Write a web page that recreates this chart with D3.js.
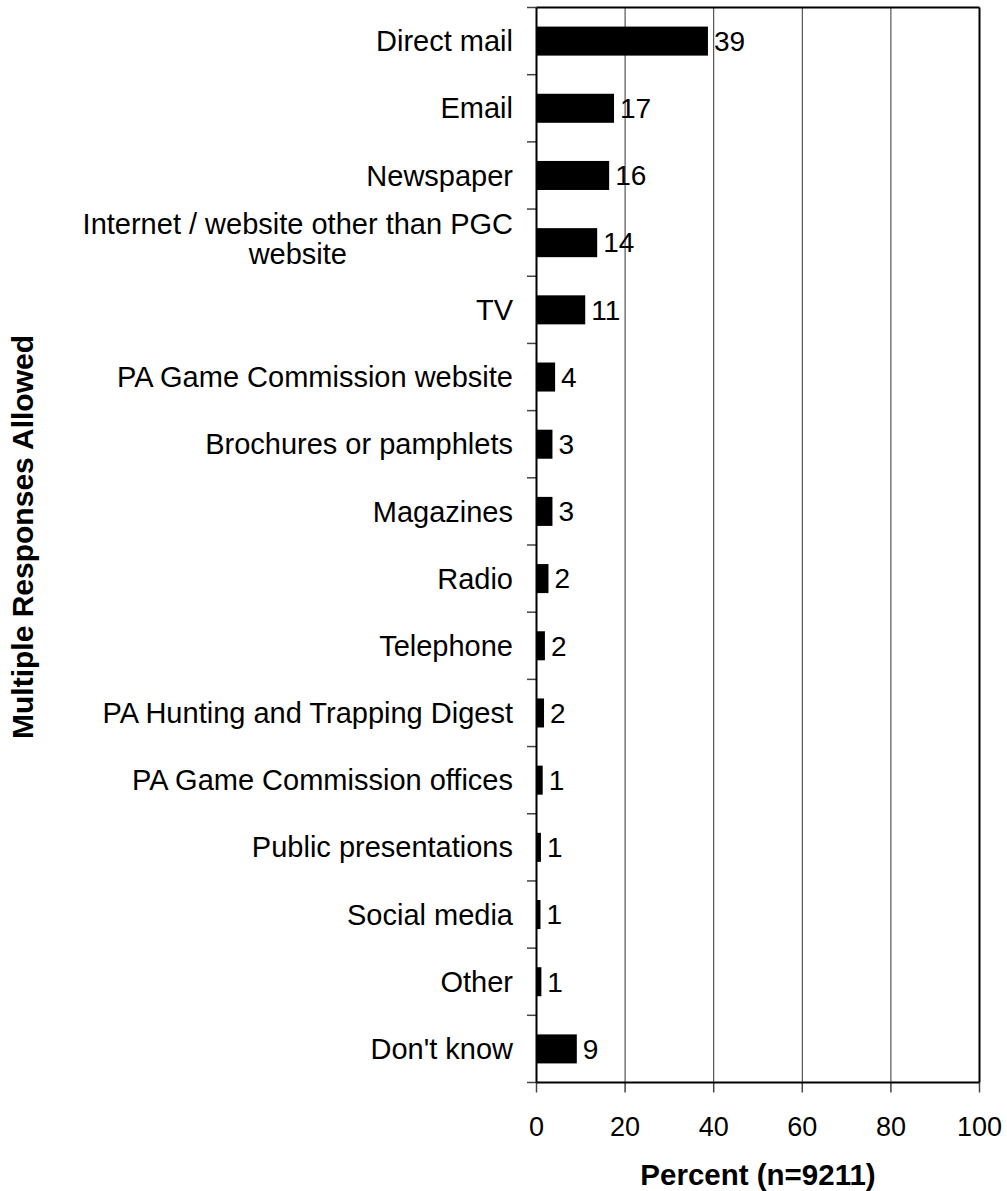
<!DOCTYPE html>
<html>
<head>
<meta charset="utf-8">
<script src="https://cdn.jsdelivr.net/npm/d3@7"></script>
<style>
  html, body { margin: 0; padding: 0; background: #fff; }
  svg { display: block; }
  text { font-family: "Liberation Sans", Arial, sans-serif; fill: #000; }
</style>
</head>
<body>
<script>
const categories = [
  "Direct mail", "Email", "Newspaper", "Internet / website other than PGC website",
  "TV", "PA Game Commission website", "Brochures or pamphlets", "Magazines",
  "Radio", "Telephone", "PA Hunting and Trapping Digest", "PA Game Commission offices",
  "Public presentations", "Social media", "Other", "Don't know"
];
const values = [38.7, 17.5, 16.4, 13.7, 11.0, 4.2, 3.6, 3.6, 2.7, 1.9, 1.7, 1.4, 1.0, 0.9, 1.1, 9.1];
const valueLabels = ["39", "17", "16", "14", "11", "4", "3", "3", "2", "2", "2", "1", "1", "1", "1", "9"];
const xTicks = [0, 20, 40, 60, 80, 100];
const xTitle = "Percent (n=9211)";
const yTitle = "Multiple Responses Allowed";

const W = 1007, H = 1191;
const plot = { left: 536.5, right: 979.5, top: 7.5, bottom: 1082.5 };

const svg = d3.select("body").append("svg").attr("width", W).attr("height", H);

const x = d3.scaleLinear().domain([0, 100]).range([plot.left, plot.right]);
const y = d3.scaleBand().domain(categories).range([plot.top, plot.bottom])
  .paddingInner(0.568).paddingOuter(0.284);
const step = y.step();

// gridlines
svg.append("g").selectAll("line").data(xTicks.filter(t => t > 0 && t < 100)).join("line")
  .attr("x1", d => x(d)).attr("x2", d => x(d))
  .attr("y1", plot.top).attr("y2", plot.bottom)
  .attr("stroke", "#333").attr("stroke-width", 1);

// frame top and right
svg.append("line").attr("x1", plot.left).attr("x2", plot.right).attr("y1", plot.top).attr("y2", plot.top)
  .attr("stroke", "#000").attr("stroke-width", 2);
svg.append("line").attr("x1", plot.right).attr("x2", plot.right).attr("y1", plot.top).attr("y2", plot.bottom)
  .attr("stroke", "#000").attr("stroke-width", 2);

// bars
svg.append("g").selectAll("rect").data(categories).join("rect")
  .attr("x", x(0))
  .attr("y", d => y(d))
  .attr("width", (d, i) => x(values[i]) - x(0))
  .attr("height", y.bandwidth())
  .attr("fill", "#000");

// value labels
svg.append("g").selectAll("text").data(categories).join("text")
  .attr("x", (d, i) => x(values[i]) + 6)
  .attr("y", d => y(d) + y.bandwidth() / 2)
  .attr("dy", "0.35em")
  .attr("font-size", 28)
  .text((d, i) => valueLabels[i]);

// y-axis ticks at band boundaries
const boundaries = d3.range(categories.length + 1).map(k => plot.top + k * step);
svg.append("g").selectAll("line").data(boundaries).join("line")
  .attr("x1", plot.left - 9.5).attr("x2", plot.left)
  .attr("y1", d => d).attr("y2", d => d)
  .attr("stroke", "#444").attr("stroke-width", 1.5);

// x-axis ticks
svg.append("g").selectAll("line").data(xTicks).join("line")
  .attr("x1", d => x(d)).attr("x2", d => x(d))
  .attr("y1", plot.bottom).attr("y2", plot.bottom + 10)
  .attr("stroke", "#444").attr("stroke-width", 1.5);

// axis lines
svg.append("line").attr("x1", plot.left).attr("x2", plot.left).attr("y1", plot.top).attr("y2", plot.bottom)
  .attr("stroke", "#000").attr("stroke-width", 2);
svg.append("line").attr("x1", plot.left).attr("x2", plot.right).attr("y1", plot.bottom).attr("y2", plot.bottom)
  .attr("stroke", "#000").attr("stroke-width", 2);

// x tick labels
svg.append("g").selectAll("text").data(xTicks).join("text")
  .attr("x", d => x(d)).attr("y", 1127).attr("dy", "0.35em")
  .attr("text-anchor", "middle").attr("font-size", 27)
  .text(d => d);

// category labels with wrapping
const labelRight = 513;
const maxW = 460;
const catG = svg.append("g");
categories.forEach(cat => {
  const cy = y(cat) + y.bandwidth() / 2;
  const t = catG.append("text").attr("font-size", 29);
  // word wrap
  const words = cat.split(" ");
  const lines = [];
  let cur = [];
  const probe = t.append("tspan");
  words.forEach(w => {
    const test = cur.concat(w).join(" ");
    probe.text(test);
    if (probe.node().getComputedTextLength() > maxW && cur.length) {
      lines.push(cur.join(" "));
      cur = [w];
    } else {
      cur.push(w);
    }
  });
  lines.push(cur.join(" "));
  probe.remove();
  if (lines.length === 1) {
    t.attr("x", labelRight).attr("y", cy).attr("dy", "0.35em").attr("text-anchor", "end").text(lines[0]);
  } else {
    // measure widest line
    let widest = 0;
    lines.forEach(l => {
      const p = t.append("tspan").text(l);
      widest = Math.max(widest, p.node().getComputedTextLength());
      p.remove();
    });
    const cx = labelRight - widest / 2;
    const lh = 30;
    const y0 = cy - 4 - (lines.length - 1) * lh / 2;
    t.attr("text-anchor", "middle");
    lines.forEach((l, i) => {
      t.append("tspan").attr("x", cx).attr("y", y0 + i * lh).attr("dy", "0.35em").text(l);
    });
  }
});

// axis titles
svg.append("text")
  .attr("x", (plot.left + plot.right) / 2).attr("y", 1175).attr("dy", "0.35em")
  .attr("text-anchor", "middle").attr("font-size", 29.5).attr("font-weight", "bold")
  .text(xTitle);

svg.append("text")
  .attr("transform", `translate(33, ${(plot.top + plot.bottom) / 2 - 8}) rotate(-90)`)
  .attr("text-anchor", "middle").attr("font-size", 30).attr("font-weight", "bold")
  .text(yTitle);
</script>
</body>
</html>
